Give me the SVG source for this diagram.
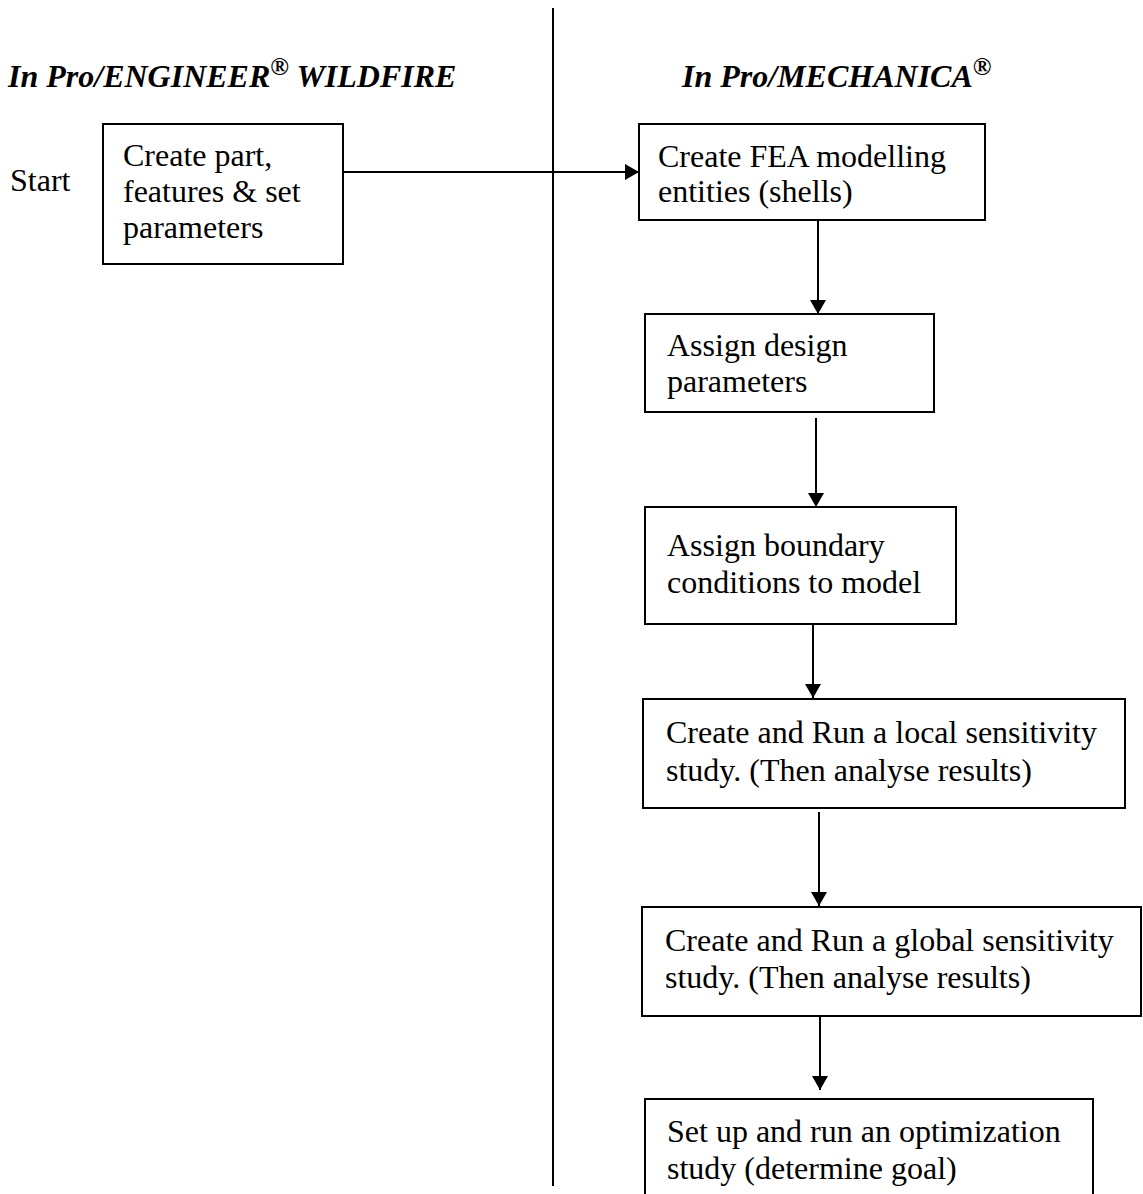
<svg xmlns="http://www.w3.org/2000/svg" width="1143" height="1194" viewBox="0 0 1143 1194">
  <defs>
    <marker id="ah" viewBox="0 0 14 16" refX="14" refY="8" markerWidth="14" markerHeight="16" markerUnits="userSpaceOnUse" orient="auto">
      <path d="M0,0 L14,8 L0,16 Z" fill="#000"/>
    </marker>
    <style>
      .box { fill: #fff; stroke: #000; stroke-width: 2; }
      .t { font-family: "Liberation Serif", "Times New Roman", serif; font-size: 32px; fill: #000; }
      .title { font-family: "Liberation Serif", "Times New Roman", serif; font-size: 32px; font-weight: bold; font-style: italic; fill: #000; }
      .sup { font-size: 25px; }
      .conn { stroke: #000; stroke-width: 2; fill: none; }
    </style>
  </defs>
  <rect width="1143" height="1194" fill="#fff"/>

  <g id="divider">
    <line class="conn" x1="553" y1="8" x2="553" y2="1186"/>
  </g>

  <g id="title-left">
    <text class="title" x="8" y="87">In Pro/ENGINEER<tspan class="sup" dy="-12">®</tspan><tspan dy="12"> WILDFIRE</tspan></text>
  </g>
  <g id="title-right">
    <text class="title" x="682" y="87">In Pro/MECHANICA<tspan class="sup" dy="-12">®</tspan></text>
  </g>

  <g id="start">
    <text class="t" x="10" y="191">Start</text>
  </g>

  <g id="connectors">
    <line class="conn" x1="343" y1="172" x2="639" y2="172" marker-end="url(#ah)"/>
    <line class="conn" x1="818" y1="220" x2="818" y2="314" marker-end="url(#ah)"/>
    <line class="conn" x1="816" y1="418" x2="816" y2="507" marker-end="url(#ah)"/>
    <line class="conn" x1="813" y1="624" x2="813" y2="698" marker-end="url(#ah)"/>
    <line class="conn" x1="819" y1="812" x2="819" y2="906" marker-end="url(#ah)"/>
    <line class="conn" x1="820" y1="1016" x2="820" y2="1090" marker-end="url(#ah)"/>
  </g>

  <g id="node-create-part">
    <rect class="box" x="103" y="124" width="240" height="140"/>
    <text class="t" x="123" y="166">Create part,</text>
    <text class="t" x="123" y="202">features &amp; set</text>
    <text class="t" x="123" y="238">parameters</text>
  </g>

  <g id="node-fea">
    <rect class="box" x="639" y="124" width="346" height="96"/>
    <text class="t" x="658" y="167">Create FEA modelling</text>
    <text class="t" x="658" y="202">entities (shells)</text>
  </g>

  <g id="node-design-params">
    <rect class="box" x="645" y="314" width="289" height="98"/>
    <text class="t" x="667" y="356">Assign design</text>
    <text class="t" x="667" y="392">parameters</text>
  </g>

  <g id="node-boundary">
    <rect class="box" x="645" y="507" width="311" height="117"/>
    <text class="t" x="667" y="556">Assign boundary</text>
    <text class="t" x="667" y="593">conditions to model</text>
  </g>

  <g id="node-local">
    <rect class="box" x="643" y="699" width="482" height="109"/>
    <text class="t" x="666" y="743">Create and Run a local sensitivity</text>
    <text class="t" x="666" y="781">study. (Then analyse results)</text>
  </g>

  <g id="node-global">
    <rect class="box" x="642" y="907" width="499" height="109"/>
    <text class="t" x="665" y="951">Create and Run a global sensitivity</text>
    <text class="t" x="665" y="988">study. (Then analyse results)</text>
  </g>

  <g id="node-optimization">
    <rect class="box" x="645" y="1099" width="448" height="120"/>
    <text class="t" x="667" y="1142">Set up and run an optimization</text>
    <text class="t" x="667" y="1179">study (determine goal)</text>
  </g>
</svg>
